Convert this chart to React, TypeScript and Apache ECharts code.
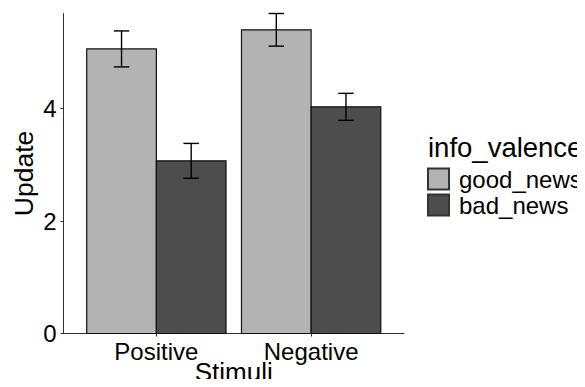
import React, { useEffect, useRef } from "react";
import * as echarts from "echarts";

const categories = ["Positive", "Negative"];
const seriesNames = ["good_news", "bad_news"];
const goodNews = [5.06, 5.4];
const badNews = [3.07, 4.03];
const goodSE = [0.32, 0.29];
const badSE = [0.31, 0.24];
const yTicks = [0, 2, 4];
const yMax = 5.69;
const xTitle = "Stimuli";
const yTitle = "Update";
const legendTitle = "info_valence";

const FONT = "Liberation Sans, Arial, Helvetica, sans-serif";

export default function App() {
  const ref = useRef<HTMLDivElement>(null);
  useEffect(() => {
    const chart = echarts.init(ref.current!, null, { renderer: "svg" });
    const dodge = 0.45;
    const capW = 0.1;
    const makeRender = (offset: number) => (params: any, api: any) => {
      const x = api.value(0) + offset;
      const v = api.value(1);
      const se = api.value(2);
      const w = api.size([dodge, 0])[0];
      const base = api.coord([x, 0]);
      const top = api.coord([x, v]);
      const hi = api.coord([x, v + se]);
      const lo = api.coord([x, v - se]);
      const cap = api.size([capW, 0])[0] / 2;
      const style = api.style();
      return {
        type: "group",
        children: [
          {
            type: "rect",
            shape: { x: base[0] - w / 2, y: top[1], width: w, height: base[1] - top[1] },
            style: { fill: style.fill, stroke: "#111", lineWidth: 1.2 },
          },
          {
            type: "line",
            shape: { x1: hi[0], y1: hi[1], x2: lo[0], y2: lo[1] },
            style: { stroke: "#000", lineWidth: 1.4 },
          },
          {
            type: "line",
            shape: { x1: hi[0] - cap, y1: hi[1], x2: hi[0] + cap, y2: hi[1] },
            style: { stroke: "#000", lineWidth: 1.4 },
          },
          {
            type: "line",
            shape: { x1: lo[0] - cap, y1: lo[1], x2: lo[0] + cap, y2: lo[1] },
            style: { stroke: "#000", lineWidth: 1.4 },
          },
        ],
      };
    };
    const mk = (vals: number[], se: number[]) => vals.map((v, i) => [i + 1, v, se[i]]);
    chart.setOption({
      animation: false,
      textStyle: { fontFamily: FONT },
      grid: {
        left: 63.5,
        top: 13.5,
        width: 340.5,
        height: 320,
        containLabel: false,
        outerBoundsMode: "none",
      },
      legend: {
        orient: "vertical",
        left: 427,
        top: 167,
        padding: 0,
        itemWidth: 21,
        itemHeight: 21,
        itemGap: 2,
        icon: "rect",
        data: seriesNames,
        textStyle: { fontSize: 24, color: "#000", fontFamily: FONT, padding: [0, 0, 0, 5] },
      },
      graphic: [
        {
          type: "text",
          left: 428,
          top: 133,
          style: { text: legendTitle, fontSize: 27.5, fill: "#000", fontFamily: FONT },
        },
        {
          type: "text",
          x: 233.75,
          y: 372.3,
          style: {
            text: xTitle,
            fontSize: 26,
            lineHeight: 18,
            fill: "#000",
            fontFamily: FONT,
            align: "center",
            verticalAlign: "middle",
          },
        },
        {
          type: "text",
          x: 24,
          y: 173.5,
          rotation: Math.PI / 2,
          style: {
            text: yTitle,
            fontSize: 26.5,
            fill: "#000",
            fontFamily: FONT,
            align: "center",
            verticalAlign: "middle",
          },
        },
      ],
      xAxis: {
        type: "value",
        min: 0.4,
        max: 2.6,
        axisLine: { show: true, lineStyle: { color: "#333", width: 1 } },
        axisTick: { show: true, length: 3, customValues: [1, 2], lineStyle: { color: "#333" } },
        axisLabel: {
          customValues: [1, 2],
          formatter: (v: number) => categories[Math.round(v) - 1],
          fontSize: 24,
          color: "#000",
          margin: 6,
          fontFamily: FONT,
        },
        splitLine: { show: false },
      },
      yAxis: {
        type: "value",
        min: 0,
        max: yMax,
        axisLine: { show: true, lineStyle: { color: "#333", width: 1 } },
        axisTick: { show: true, length: 3, customValues: yTicks, lineStyle: { color: "#333" } },
        axisLabel: { customValues: yTicks, fontSize: 24, color: "#000", margin: 7, fontFamily: FONT },
        splitLine: { show: false },
      },
      series: [
        {
          type: "custom",
          name: seriesNames[0],
          renderItem: makeRender(-dodge / 2),
          itemStyle: { color: "#B3B3B3", borderColor: "#333", borderWidth: 1 },
          encode: { x: 0, y: [1] },
          data: mk(goodNews, goodSE),
        },
        {
          type: "custom",
          name: seriesNames[1],
          renderItem: makeRender(dodge / 2),
          itemStyle: { color: "#4D4D4D", borderColor: "#333", borderWidth: 1 },
          encode: { x: 0, y: [1] },
          data: mk(badNews, badSE),
        },
      ],
    });
    return () => chart.dispose();
  }, []);
  return <div ref={ref} style={{ width: 585, height: 387, margin: -8 }} />;
}
